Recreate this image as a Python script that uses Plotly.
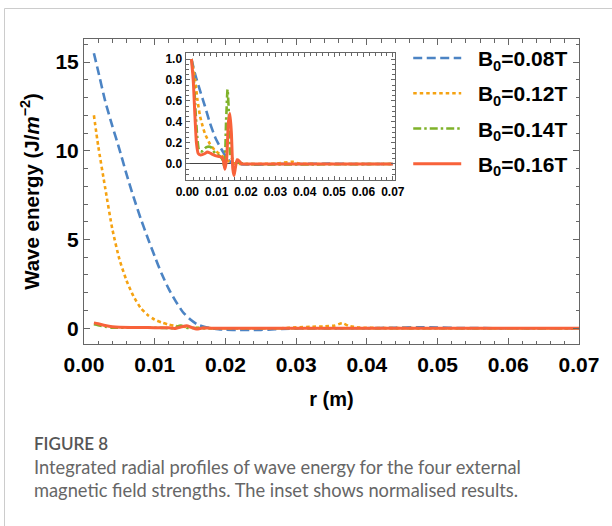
import plotly.graph_objects as go

# ---------------- data ----------------
labels = ["B<sub>0</sub>=0.08T", "B<sub>0</sub>=0.12T", "B<sub>0</sub>=0.14T", "B<sub>0</sub>=0.16T"]
colors = ["#4C84C4", "#F5A211", "#7FB22A", "#F8623A"]
dashes = ["9px,4.5px", "3.5px,3px", "8px,3px,2.5px,3px", "solid"]

# main plot: wave energy (J/m^-2) vs r (m)
r_b08 = [0.0014, 0.002, 0.003, 0.004, 0.005, 0.006, 0.007, 0.008, 0.009, 0.010, 0.011, 0.012,
         0.013, 0.014, 0.015, 0.016, 0.017, 0.018, 0.019, 0.020, 0.022, 0.024, 0.026, 0.028,
         0.030, 0.035, 0.040, 0.044, 0.047, 0.050, 0.053, 0.060, 0.070]
e_b08 = [15.5, 14.5, 12.8, 11.4, 10.1, 8.7, 7.4, 6.2, 5.1, 4.05, 3.05, 2.2,
         1.5, 0.9, 0.5, 0.22, 0.08, 0.0, -0.05, -0.08, -0.1, -0.1, -0.08, -0.04,
         -0.01, 0.0, 0.0, 0.03, 0.05, 0.04, 0.01, 0.0, 0.0]

r_b12 = [0.0014, 0.002, 0.003, 0.004, 0.005, 0.006, 0.007, 0.008, 0.009, 0.010, 0.011, 0.012,
         0.013, 0.014, 0.015, 0.016, 0.018, 0.022, 0.028, 0.030, 0.032, 0.034, 0.0355, 0.0365,
         0.0375, 0.039, 0.042, 0.050, 0.060, 0.070]
e_b12 = [12.0, 10.3, 7.9, 5.6, 3.9, 2.7, 1.8, 1.15, 0.75, 0.48, 0.32, 0.2,
         0.12, 0.08, 0.05, 0.02, 0.0, 0.0, 0.0, 0.05, 0.08, 0.1, 0.15, 0.28,
         0.12, 0.04, 0.01, 0.0, 0.0, 0.0]

r_b14 = [0.0014, 0.002, 0.003, 0.004, 0.006, 0.008, 0.011, 0.0125, 0.0137, 0.0145, 0.016,
         0.018, 0.030, 0.050, 0.070]
e_b14 = [0.22, 0.17, 0.08, 0.03, 0.035, 0.033, 0.02, 0.0, 0.15, 0.03, 0.005,
         0.0, 0.0, 0.0, 0.0]

r_b16 = [0.0014, 0.002, 0.003, 0.004, 0.005, 0.007, 0.009, 0.011, 0.012, 0.0128, 0.0138,
         0.0145, 0.0152, 0.0159, 0.0168, 0.018, 0.030, 0.050, 0.070]
e_b16 = [0.3, 0.25, 0.15, 0.08, 0.05, 0.04, 0.035, 0.03, 0.025, -0.01, 0.08,
         0.14, 0.05, -0.04, 0.01, 0.0, 0.0, 0.0, 0.0]

# inset: normalised wave energy
ri_b08 = [0.0014, 0.0026, 0.0043, 0.006, 0.0077, 0.0094, 0.0111, 0.0128, 0.014, 0.0151,
          0.017, 0.020, 0.025, 0.030, 0.040, 0.048, 0.055, 0.070]
ni_b08 = [1.0, 0.86, 0.70, 0.55, 0.39, 0.26, 0.165, 0.086, 0.038, 0.01,
          0.0, -0.005, -0.006, 0.0, 0.0, 0.003, 0.0, 0.0]

ri_b12 = [0.0014, 0.0026, 0.0034, 0.0043, 0.0052, 0.006, 0.0077, 0.0094, 0.0117, 0.0134, 0.015,
          0.018, 0.030, 0.036, 0.038, 0.045, 0.070]
ni_b12 = [1.0, 0.81, 0.62, 0.46, 0.36, 0.29, 0.19, 0.13, 0.08, 0.04, 0.01,
          0.0, 0.004, 0.02, 0.004, 0.0, 0.0]

ri_b14 = [0.0014, 0.0022, 0.0028, 0.0034, 0.004, 0.005, 0.0065, 0.008, 0.0095, 0.0108,
          0.0118, 0.0126, 0.0132, 0.0137, 0.0142, 0.0148, 0.0155, 0.0165, 0.018, 0.020, 0.070]
ni_b14 = [1.0, 0.8, 0.5, 0.25, 0.13, 0.12, 0.16, 0.16, 0.1, 0.08,
          0.05, -0.02, 0.4, 0.71, 0.45, 0.06, 0.05, 0.02, 0.01, 0.0, 0.0]

ri_b16 = [0.0014, 0.002, 0.0026, 0.0031, 0.0037, 0.0045, 0.006, 0.0068, 0.008, 0.0095,
          0.011, 0.012, 0.0128, 0.0134, 0.014, 0.0145, 0.015, 0.0155, 0.0159, 0.0164,
          0.017, 0.0176, 0.0185, 0.020, 0.070]
ni_b16 = [1.0, 0.8, 0.45, 0.2, 0.1, 0.085, 0.1, 0.115, 0.1, 0.08,
          0.07, 0.06, -0.05, 0.05, 0.4, 0.48, 0.3, -0.05, -0.11, -0.03,
          0.04, 0.03, 0.0, 0.0, 0.0]

main_r = [r_b08, r_b12, r_b14, r_b16]
main_e = [e_b08, e_b12, e_b14, e_b16]
ins_r = [ri_b08, ri_b12, ri_b14, ri_b16]
ins_n = [ni_b08, ni_b12, ni_b14, ni_b16]

x_ticks = [0.00, 0.01, 0.02, 0.03, 0.04, 0.05, 0.06, 0.07]
y_ticks = [0, 5, 10, 15]
yi_ticks = [0.0, 0.2, 0.4, 0.6, 0.8, 1.0]

caption_head = "FIGURE 8"
caption_lines = ["Integrated radial profiles of wave energy for the four external",
                 "magnetic field strengths. The inset shows normalised results."]

# ---------------- figure ----------------
FONT = "Liberation Sans, Arial, sans-serif"
CAP_FONT = "Lato, Open Sans, sans-serif"
fig = go.Figure()

for i in range(4):
    fig.add_trace(go.Scatter(
        x=main_r[i], y=main_e[i], mode="lines", name="&nbsp;&nbsp;" + labels[i],
        line=dict(color=colors[i], width=2.6 if i < 3 else 3, dash=dashes[i], shape="spline", smoothing=0.6),
        legendgroup=f"g{i}", xaxis="x", yaxis="y"))

for i in range(4):
    fig.add_trace(go.Scatter(
        x=ins_r[i], y=ins_n[i], mode="lines", showlegend=False,
        line=dict(color=colors[i], width=2.6 if i < 3 else 3, dash=dashes[i], shape="spline", smoothing=0.6),
        xaxis="x2", yaxis="y2"))

axis_common = dict(showline=True, linecolor="#666", linewidth=1, mirror="ticks",
                   ticks="inside", tickcolor="#666", showgrid=False)

fig.update_layout(
    width=612, height=526,
    margin=dict(l=84, r=33, t=39, b=182),
    paper_bgcolor="white", plot_bgcolor="white",
    font=dict(family=FONT, color="black"),
    xaxis=dict(domain=[0, 1], range=[0, 0.07], tickvals=x_ticks,
               ticktext=[f"{v:.2f}" for v in x_ticks], ticklen=6, tickwidth=1,
               minor=dict(dtick=0.002, ticklen=3.5, tickcolor="#666", ticks="inside"),
               tickfont=dict(size=21, weight=700, family=FONT), ticklabelstandoff=2,
               title=dict(text="r (m)", font=dict(size=20, weight=700, family=FONT), standoff=16),
               zeroline=False, **axis_common),
    yaxis=dict(domain=[0, 1], range=[-0.89, 16.3], tickvals=y_ticks,
               ticklen=6, tickwidth=1,
               minor=dict(dtick=1, ticklen=3.5, tickcolor="#666", ticks="inside"),
               tickfont=dict(size=21, weight=700, family=FONT), ticklabelstandoff=0,
               title=dict(text="Wave energy (J/<i>m</i><sup>−2</sup>)",
                          font=dict(size=20.5, weight=700, family=FONT), standoff=10),
               zeroline=False, **axis_common),
    xaxis2=dict(domain=[0.207, 0.628], anchor="y2", range=[-0.0003, 0.0707], tickvals=x_ticks,
                ticktext=[f"{v:.2f}" for v in x_ticks], ticklen=4, tickwidth=1,
                minor=dict(dtick=0.002, ticklen=2.5, tickcolor="#666", ticks="inside"),
                tickfont=dict(size=12, weight=700, family=FONT), ticklabelstandoff=1,
                zeroline=False, **axis_common),
    yaxis2=dict(domain=[0.538, 0.953], anchor="x2", range=[-0.152, 1.054], tickvals=yi_ticks,
                ticktext=[f"{v:.1f}" for v in yi_ticks], ticklen=4, tickwidth=1,
                minor=dict(dtick=0.05, ticklen=2.5, tickcolor="#666", ticks="inside"),
                tickfont=dict(size=12, weight=700, family=FONT), ticklabelstandoff=1,
                zeroline=True, zerolinecolor="#444", zerolinewidth=1.2, **axis_common),
    legend=dict(x=0.655, y=1.004, xanchor="left", yanchor="top",
                bgcolor="rgba(0,0,0,0)", font=dict(size=21, weight=700, family=FONT),
                itemwidth=48, tracegroupgap=5, traceorder="grouped"),
    showlegend=True,
)

# caption
fig.add_annotation(text=caption_head, xref="paper", yref="paper", x=-0.105, y=-0.3246,
                   xanchor="left", yanchor="middle", showarrow=False,
                   font=dict(family=CAP_FONT, size=17, color="#555", weight=600))
for k, (line, yy) in enumerate(zip(caption_lines, [-0.4033, -0.4787])):
    fig.add_annotation(text=line, xref="paper", yref="paper", x=-0.105, y=yy,
                       xanchor="left", yanchor="middle", showarrow=False,
                       font=dict(family=CAP_FONT, size=18.3, color="#666"))

# page frame (left and top rules)
fig.add_shape(type="line", xref="paper", yref="paper", x0=-0.1606, x1=-0.1606, y0=1.1, y1=-0.6,
              line=dict(color="#cccccc", width=1))
fig.add_shape(type="line", xref="paper", yref="paper", x0=-0.1606, x1=1.07, y0=1.1, y1=1.1,
              line=dict(color="#cccccc", width=1))

fig.write_html("out.html")
